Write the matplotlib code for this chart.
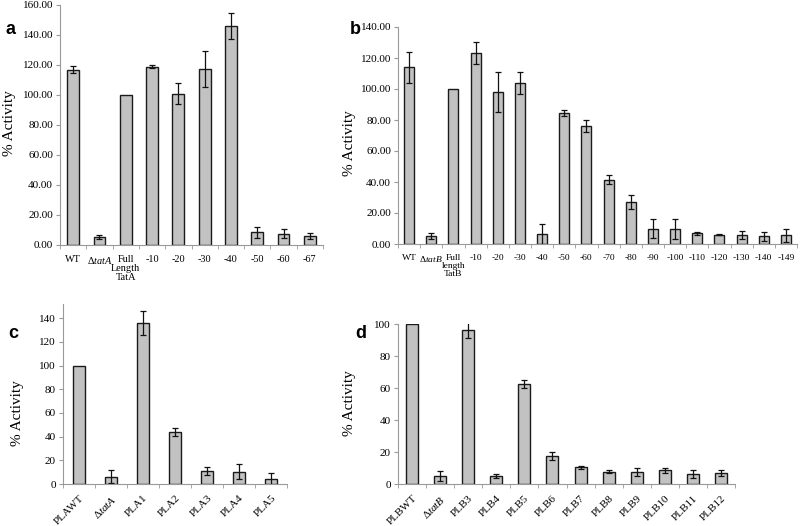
import numpy as np
import matplotlib
matplotlib.use("Agg")
import matplotlib.pyplot as plt

plt.rcParams['font.family'] = 'Liberation Serif'
plt.rcParams['mathtext.fontset'] = 'custom'
plt.rcParams['mathtext.rm'] = 'Liberation Serif'
plt.rcParams['mathtext.it'] = 'Liberation Serif:italic'

# panel a
a_labels = ['WT', r'Δ$\mathit{tatA}$', 'Full\nLength\nTatA', '-10', '-20', '-30', '-40', '-50', '-60', '-67']
a_vals = [117, 5.5, 100, 119, 101, 117.5, 146, 8.5, 7.5, 6]
a_err = [2.5, 1.5, 0, 1, 7, 12, 8.5, 3.5, 3, 2]

# panel b
b_labels = ['WT', r'Δ$\mathit{tatB}$', 'Full\nlength\nTatB', '-10', '-20', '-30', '-40', '-50', '-60',
            '-70', '-80', '-90', '-100', '-110', '-120', '-130', '-140', '-149']
b_vals = [114, 5, 100, 123, 98, 104, 6.5, 84.5, 76, 41.5, 27, 10, 9.5, 7, 6, 6, 5, 5.5]
b_err = [10, 2, 0, 7, 13, 7, 6.5, 2, 4, 3, 4.5, 6, 6.5, 1, 0.5, 2.5, 3, 4]

# panel c
c_labels = ['PLAWT', r'Δ$\mathit{tatA}$', 'PLA1', 'PLA2', 'PLA3', 'PLA4', 'PLA5']
c_vals = [100, 6, 136, 44, 11, 10.5, 4]
c_err = [0, 5.5, 10.5, 3.5, 3.5, 6, 5]

# panel d
d_labels = ['PLBWT', r'Δ$\mathit{tatB}$', 'PLB3', 'PLB4', 'PLB5', 'PLB6', 'PLB7', 'PLB8', 'PLB9',
            'PLB10', 'PLB11', 'PLB12']
d_vals = [100, 5, 96, 5, 62.5, 17.5, 10.5, 7.8, 7.5, 8.5, 6, 7]
d_err = [0, 3, 5, 1.5, 2.5, 2.5, 1, 0.8, 2.5, 1.5, 2.5, 2]

fig = plt.figure(figsize=(8, 5.26), dpi=100)
W, H = 800, 526


def make_ax(x0, y_top, x1, y_bot):
    return fig.add_axes([x0 / W, 1 - y_bot / H, (x1 - x0) / W, (y_bot - y_top) / H])


def panel(ax, labels, vals, err, width, ylim, yticks, fmt, rot=False, xfs=8):
    x = np.arange(len(vals))
    ax.bar(x, vals, width=width, color='#c2c2c2', edgecolor='#1a1a1a', linewidth=1.0)
    e = np.array(err, dtype=float)
    m = e > 0
    ax.errorbar(x[m], np.array(vals)[m], yerr=e[m], fmt='none', ecolor='#111111',
                elinewidth=0.9, capsize=2.5, capthick=0.9)
    ax.set_xlim(-0.5, len(vals) - 0.5)
    ax.set_ylim(*ylim)
    ax.set_yticks(yticks)
    ax.set_yticklabels([fmt.format(t) for t in yticks], fontsize=8)
    ax.set_xticks(x)
    if rot:
        ax.set_xticklabels(labels, fontsize=xfs, rotation=45, ha='right', rotation_mode='anchor')
    else:
        ax.set_xticklabels(labels, fontsize=xfs, linespacing=1.05, va='top')
    ax.set_xticks(np.arange(len(vals) + 1) - 0.5, minor=True)
    ax.tick_params(axis='x', which='major', length=0, pad=7)
    ax.tick_params(axis='x', which='minor', length=3, color='#999999', direction='out')
    ax.tick_params(axis='y', length=3, color='#999999', pad=2)
    for s in ['top', 'right']:
        ax.spines[s].set_visible(False)
    for s in ['left', 'bottom']:
        ax.spines[s].set_color('#999999')
        ax.spines[s].set_linewidth(0.8)


axa = make_ax(60, 5, 323, 245)
panel(axa, a_labels, a_vals, a_err, 0.45, (0, 160), np.arange(0, 161, 20), '{:.2f}', xfs=7.4)

axb = make_ax(398, 27, 797, 244)
panel(axb, b_labels, b_vals, b_err, 0.45, (0, 140), np.arange(0, 141, 20), '{:.2f}', xfs=6.8)

axc = make_ax(63, 304, 287, 484)
panel(axc, c_labels, c_vals, c_err, 0.4, (0, 152), np.arange(0, 141, 20), '{:.0f}', rot=True, xfs=8)

axd = make_ax(398, 324, 735, 484)
panel(axd, d_labels, d_vals, d_err, 0.43, (0, 100), np.arange(0, 101, 20), '{:.0f}', rot=True, xfs=8)

for lab, px, py in [('a', 10, 30), ('b', 355, 30), ('c', 13, 333), ('d', 361, 333)]:
    fig.text(px / W, 1 - py / H, lab, fontsize=13, fontweight='bold', family='Liberation Sans',
             ha='center', va='center')

for px, py in [(10, 123), (349, 143), (18, 413), (349, 403)]:
    fig.text(px / W, 1 - py / H, '% Activity', fontsize=11, rotation=90, ha='center', va='center')

fig.savefig('out.png', dpi=100)
